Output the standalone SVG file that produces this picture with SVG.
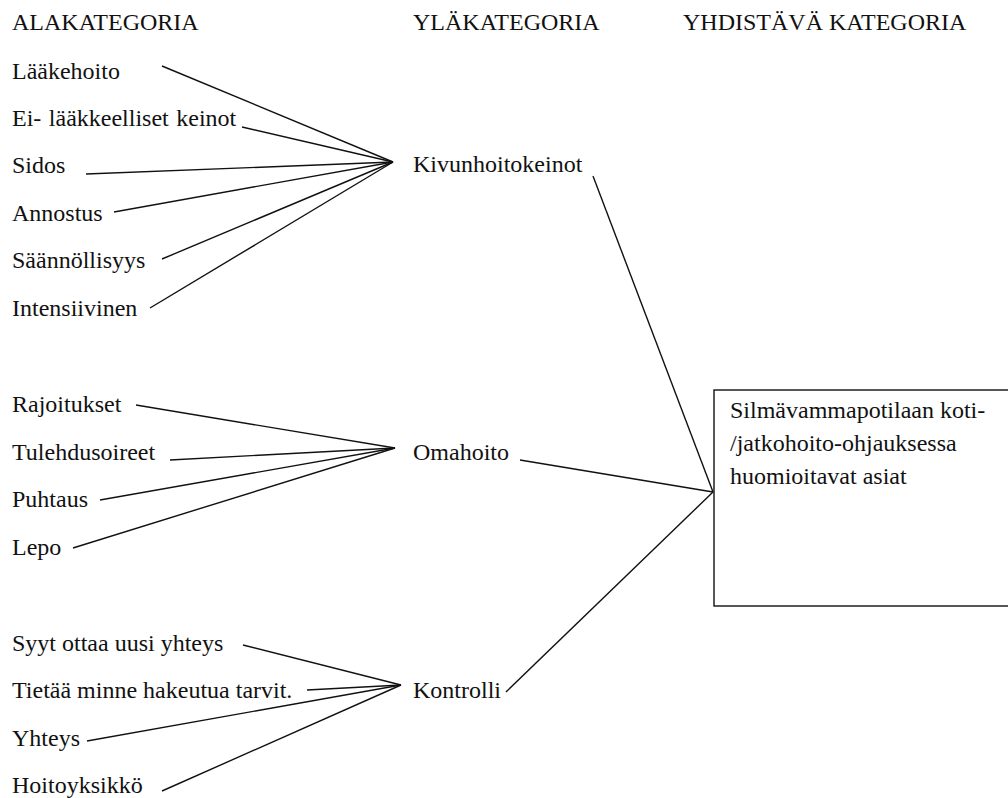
<svg xmlns="http://www.w3.org/2000/svg" width="1008" height="798" viewBox="0 0 1008 798">
<style>
.c line{stroke:#111;stroke-width:1.4;fill:none}
</style>
<rect width="1008" height="798" fill="#fff"/>
<g font-family="Liberation Serif, serif" font-size="24" fill="#111">
<g id="headers">
<text x="12" y="30">ALAKATEGORIA</text>
<text x="413" y="30">YLÄKATEGORIA</text>
<text x="683" y="30">YHDISTÄVÄ KATEGORIA</text>
</g>
<g id="n-laakehoito"><text x="12" y="79">Lääkehoito</text></g>
<g id="n-eilaak"><text x="12" y="126" word-spacing="1.5">Ei- lääkkeelliset keinot</text></g>
<g id="n-sidos"><text x="12" y="173">Sidos</text></g>
<g id="n-annostus"><text x="12" y="221">Annostus</text></g>
<g id="n-saann"><text x="12" y="268">Säännöllisyys</text></g>
<g id="n-intens"><text x="12" y="316">Intensiivinen</text></g>
<g id="n-kivun"><text x="413" y="172">Kivunhoitokeinot</text></g>
<g id="n-rajoitukset"><text x="12" y="412">Rajoitukset</text></g>
<g id="n-tulehdus"><text x="12" y="460">Tulehdusoireet</text></g>
<g id="n-puhtaus"><text x="12" y="507">Puhtaus</text></g>
<g id="n-lepo"><text x="12" y="555">Lepo</text></g>
<g id="n-omahoito"><text x="413" y="460">Omahoito</text></g>
<g id="n-syyt"><text x="12" y="651">Syyt ottaa uusi yhteys</text></g>
<g id="n-tietaa"><text x="12" y="698">Tietää minne hakeutua tarvit.</text></g>
<g id="n-yhteys"><text x="12" y="746">Yhteys</text></g>
<g id="n-hoitoyks"><text x="12" y="793">Hoitoyksikkö</text></g>
<g id="n-kontrolli"><text x="413" y="698">Kontrolli</text></g>
<g id="n-main">
<rect x="714" y="390" width="300" height="216" fill="#fff" stroke="#111" stroke-width="1.4"/>
<text x="730" y="418">Silmävammapotilaan koti-</text>
<text x="730" y="451">/jatkohoito-ohjauksessa</text>
<text x="730" y="484">huomioitavat asiat</text>
</g>
</g>
<g id="connectors" class="c">
<line x1="162" y1="66" x2="393" y2="162"/>
<line x1="242" y1="127" x2="393" y2="162"/>
<line x1="86" y1="174" x2="393" y2="162"/>
<line x1="114" y1="212" x2="393" y2="162"/>
<line x1="162" y1="259" x2="393" y2="162"/>
<line x1="150" y1="308" x2="393" y2="162"/>
<line x1="136" y1="405" x2="395" y2="448"/>
<line x1="170" y1="460" x2="395" y2="448"/>
<line x1="100" y1="500" x2="395" y2="448"/>
<line x1="73" y1="548" x2="395" y2="448"/>
<line x1="243" y1="645" x2="401" y2="685"/>
<line x1="307" y1="690" x2="401" y2="685"/>
<line x1="87" y1="741" x2="401" y2="685"/>
<line x1="162" y1="791" x2="401" y2="685"/>
<line x1="593" y1="176" x2="713" y2="492"/>
<line x1="520" y1="460" x2="713" y2="492"/>
<line x1="506" y1="692" x2="713" y2="492"/>
</g>
</svg>
